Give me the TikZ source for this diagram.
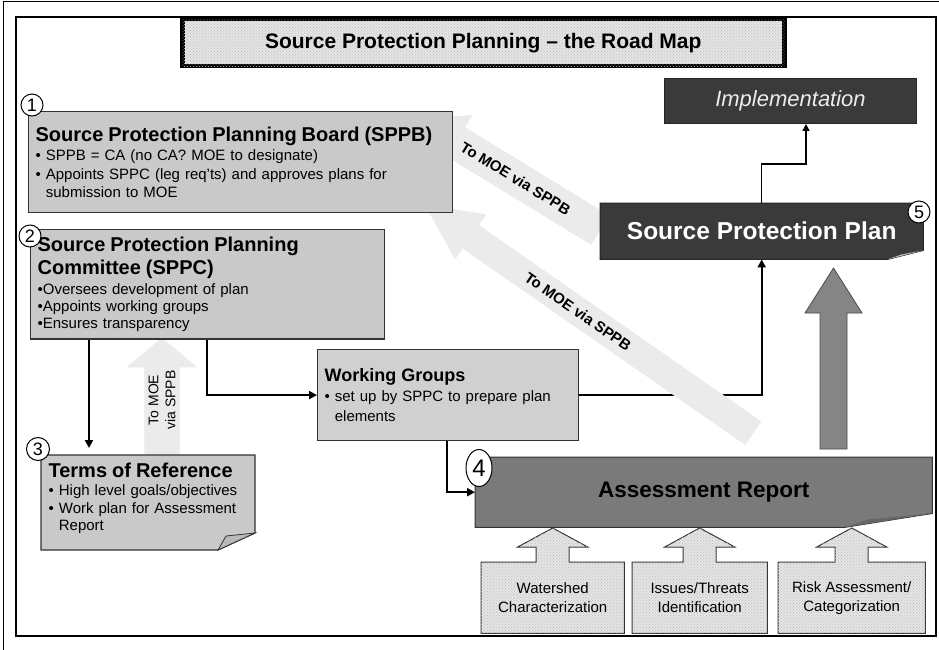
\documentclass[tikz,border=0pt]{standalone}
\usepackage{fontspec}
\setmainfont{Liberation Sans}
\usetikzlibrary{arrows.meta,patterns,shapes.geometric}

\definecolor{boxgray}{HTML}{C9C9C9}
\definecolor{wggray}{HTML}{D0D0D0}
\definecolor{plandark}{HTML}{3A3A3A}
\definecolor{reportgray}{HTML}{7A7A7A}
\definecolor{upgray}{HTML}{858585}
\definecolor{moegray}{HTML}{EBEBEB}
\definecolor{dotgray}{HTML}{E4E4E4}

\newcommand{\boxtitle}{\fontsize{20}{23}\selectfont\bfseries}
\newcommand{\boxbody}{\fontsize{15}{18.5}\selectfont}

\pgfdeclarelayer{lines}
\pgfdeclarelayer{wide}
\pgfdeclarelayer{shapes}
\pgfsetlayers{lines,wide,shapes,main}

\tikzset{
  stepbox/.style={draw=black!80, line width=1.2pt, fill=boxgray, anchor=north west,
    inner sep=7pt, align=left, font=\boxbody},
  darkbox/.style={fill=plandark, draw=black!85, line width=1pt, anchor=north west, inner sep=0pt},
  titlebox/.style={draw=black, line width=4.5pt, fill=dotgray,
    postaction={pattern=crosshatch dots, pattern color=black!25},
    anchor=north west, inner sep=0pt, font=\fontsize{21}{24}\selectfont\bfseries},
  numcircle/.style={circle, draw=black, fill=white, line width=1pt, inner sep=0pt,
    minimum size=22pt, font=\fontsize{18}{18}\selectfont},
  conn/.style={line width=2.4pt, -{Triangle[length=8pt,width=8pt]}},
  thinconn/.style={line width=1.4pt, -{Triangle[length=7pt,width=7pt]}},
  moearrow/.style={fill=moegray, draw=gray!15, line width=0.5pt},
  moetext/.style={font=\fontsize{15}{17}\selectfont\bfseries, inner sep=0pt},
  calltext/.style={anchor=north west, inner sep=0pt, align=center,
    font=\fontsize{15}{19}\selectfont},
  callshape/.style={draw=black!80, line width=1pt, fill=dotgray,
    postaction={pattern=crosshatch dots, pattern color=black!25}}
}

\begin{document}
\begin{tikzpicture}[x=1pt, y=-1pt]
\useasboundingbox (0,0) rectangle (939,650);

% Frame
\begin{pgfonlayer}{lines}
  \draw[line width=1pt] (3,650) -- (3,1.5) -- (939,1.5);
  \draw[line width=1.3pt] (16,17) rectangle (936,636);
\end{pgfonlayer}

% Title
\node[titlebox, minimum width=602pt, minimum height=47pt] (title) at (180,17)
  {Source Protection Planning -- the Road Map};

% Boxes
\node[stepbox, minimum width=424pt, minimum height=101pt, text width=410pt] (sppb) at (28,111)
  {{\boxtitle Source Protection Planning Board (SPPB)}\\[1pt]
   • SPPB = CA (no CA? MOE to designate)\\
   • Appoints SPPC (leg req'ts) and approves plans for\\
   \phantom{• }submission to MOE};
\node[stepbox, minimum width=354pt, minimum height=108pt, text width=340pt,
  font=\fontsize{15}{17}\selectfont] (sppc) at (30,229)
  {{\boxtitle Source Protection Planning\\[4pt] Committee (SPPC)}\\[3pt]
   •Oversees development of plan\\
   •Appoints working groups\\
   •Ensures transparency};
\node[stepbox, fill=wggray, minimum width=261pt, minimum height=91pt, text width=247pt,
  font=\fontsize{15}{20}\selectfont] (wg) at (317,349)
  {{\fontsize{18}{20}\selectfont\bfseries Working Groups}\\
   • set up by SPPC to prepare plan\\
   \phantom{• }elements};
\node[stepbox, draw=none, fill=none, text width=200pt, font=\fontsize{15}{17.5}\selectfont] (tor) at (41,455)
  {{\boxtitle Terms of Reference}\\[1pt]
   • High level goals/objectives\\
   • Work plan for Assessment\\
   \phantom{• }Report};
\node[darkbox, minimum width=252pt, minimum height=45pt, text=gray!15,
  font=\fontsize{22}{24}\selectfont\itshape] (impl) at (664,78) {Implementation};
\node[anchor=north west, inner sep=0pt, minimum width=323pt, minimum height=56pt, text=white,
  font=\fontsize{24.5}{26}\selectfont\bfseries] (spp) at (600,203) {Source Protection Plan};
\node[anchor=north west, inner sep=0pt, minimum width=457pt, minimum height=70pt,
  font=\fontsize{22.5}{24}\selectfont\bfseries] (ar) at (475,457) {Assessment Report};

% Inputs
\node[calltext, minimum width=143pt, minimum height=71pt] (wsc) at (481,562) {Watershed\\Characterization};
\node[calltext, minimum width=135pt, minimum height=71pt] (ist) at (632,562) {Issues/Threats\\Identification};
\node[calltext, minimum width=147pt, minimum height=71pt] (rac) at (778,562) {Risk Assessment/\\Categorization};

% Numbers
\node[numcircle] (n1) at (32,105) {1};
\node[numcircle] (n2) at (30,236) {2};
\node[numcircle, minimum size=23pt] (n3) at (38,449) {3};
\node[numcircle, ellipse, minimum width=26pt, minimum height=37pt,
  font=\fontsize{24}{24}\selectfont] (n4) at (479,468) {4};
\node[numcircle] (n5) at (919,212) {5};

% Folded shapes
\begin{pgfonlayer}{shapes}
  \filldraw[fill=boxgray, draw=black!80, line width=1.2pt]
    (41,455) -- (255,455) -- (255,533) -- (218,550) -- (41,550) -- cycle;
  \filldraw[fill=gray!55, draw=black!80, line width=0.8pt] (218,550) -- (226,536) -- (255,533) -- cycle;
  \filldraw[fill=plandark, draw=black!85, line width=1pt]
    (spp.north west) -- (spp.north east) -- ([yshift=9pt]spp.south east)
    -- ([xshift=-36pt]spp.south east) -- (spp.south west) -- cycle;
  \fill[gray!60] ([xshift=-36pt]spp.south east) -- ([xshift=-22pt,yshift=5pt]spp.south east)
    -- ([yshift=9pt]spp.south east) -- cycle;
  \filldraw[fill=reportgray, draw=black!80, line width=1pt]
    (ar.north west) -- (ar.north east) -- ([yshift=14pt]ar.south east)
    -- ([xshift=-88pt]ar.south east) -- (ar.south west) -- cycle;
  \fill[black!60] ([xshift=-88pt]ar.south east) -- ([xshift=-64pt,yshift=8pt]ar.south east)
    -- ([yshift=14pt]ar.south east) -- cycle;
  \foreach \callname in {wsc,ist,rac}
    \filldraw[callshape] (\callname.north west) -- ([xshift=-16.5pt]\callname.north)
      -- ([xshift=-16.5pt,yshift=15pt]\callname.north) -- ([xshift=-35pt,yshift=15pt]\callname.north)
      -- ([yshift=34pt]\callname.north) -- ([xshift=35pt,yshift=15pt]\callname.north)
      -- ([xshift=16.5pt,yshift=15pt]\callname.north) -- ([xshift=16.5pt]\callname.north)
      -- (\callname.north east) -- (\callname.south east) -- (\callname.south west) -- cycle;
\end{pgfonlayer}

% Connectors
\coordinate (bend) at (806,164);
\begin{pgfonlayer}{lines}
  \draw[conn, shorten >=7pt] ([xshift=59pt]sppc.south west) -- ([xshift=59pt]sppc.south west |- tor.north);
  \draw[conn] ([xshift=177pt]sppc.south west) |- (wg.west);
  \draw[conn] ([xshift=130pt]wg.south west) |- (ar.west);
  \draw[conn, line width=2pt] (wg.east) -| (spp.south);
  \draw[thinconn] (spp.north) |- (bend) -- (bend |- impl.south);
\end{pgfonlayer}

% To MOE via SPPB
\begin{pgfonlayer}{wide}
  \begin{scope}[shift={(600,230)}, rotate=148.57]
    \draw[moearrow] (0,-17) -- (169,-17) -- (169,-31) -- (213,0) -- (169,31) -- (169,17) -- (0,17) -- cycle;
    \node[moetext, rotate=-31.43] (moe1) at (99,0) {To MOE via SPPB};
  \end{scope}
  \begin{scope}[shift={(753,433)}, rotate=145.2]
    \draw[moearrow] (0,-14) -- (344,-14) -- (344,-27) -- (399,0) -- (344,27) -- (344,14) -- (0,14) -- cycle;
    \node[moetext, rotate=-34.8] (moe2) at (213,0) {To MOE via SPPB};
  \end{scope}
  \begin{scope}[shift={(162,462)}, rotate=90]
    \draw[moearrow] (0,-17.5) -- (95,-17.5) -- (95,-34.5) -- (124,0) -- (95,34.5) -- (95,17.5) -- (0,17.5) -- cycle;
    \node[moetext, font=\fontsize{14}{17}\selectfont, align=center, rotate=90] (moe3) at (62,0) {To MOE\\via SPPB};
  \end{scope}
\end{pgfonlayer}

% Plan from report
\filldraw[fill=upgray, draw=black!70, line width=0.8pt]
  (820,449) -- (820,313) -- (805,313) -- (833.5,268) -- (862,313) -- (847,313) -- (847,449) -- cycle;
\end{tikzpicture}
\end{document}
